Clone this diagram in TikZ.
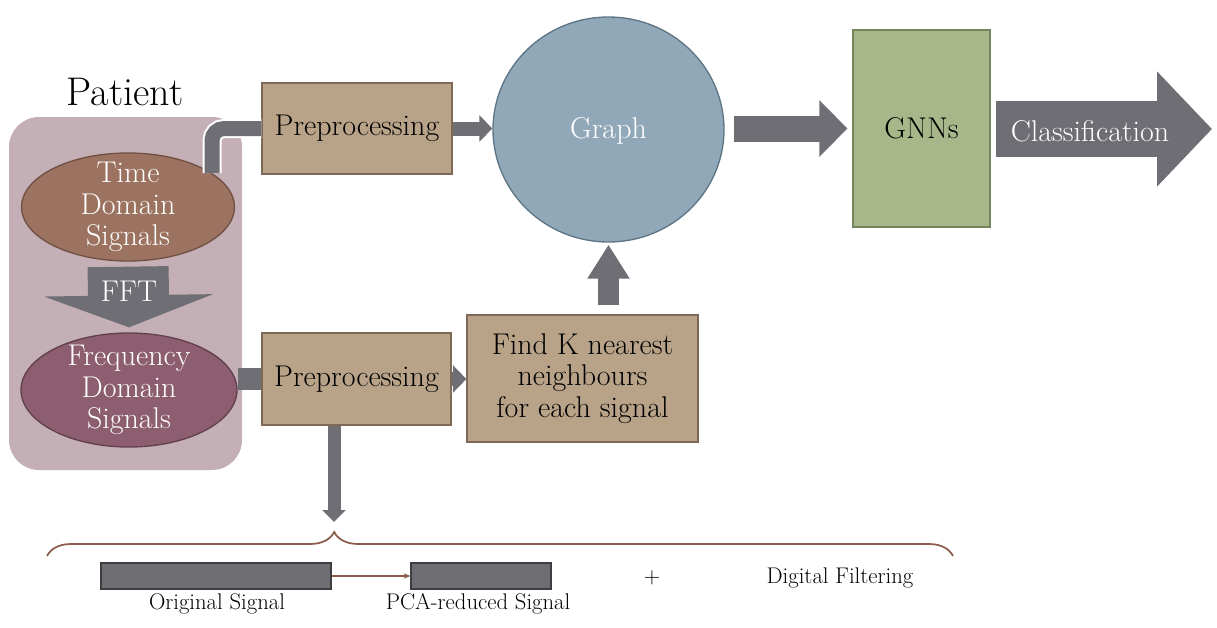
\documentclass[tikz,border=0pt]{standalone}
\usetikzlibrary{arrows.meta,shapes.geometric,decorations.pathreplacing}
\definecolor{patientbg}{RGB}{196,175,183}
\definecolor{timefill}{RGB}{156,115,96}
\definecolor{timeline}{RGB}{112,80,66}
\definecolor{freqfill}{RGB}{140,94,112}
\definecolor{freqline}{RGB}{98,64,78}
\definecolor{boxfill}{RGB}{184,162,136}
\definecolor{boxline}{RGB}{125,105,85}
\definecolor{graphfill}{RGB}{145,168,184}
\definecolor{graphline}{RGB}{94,117,133}
\definecolor{gnnfill}{RGB}{167,183,138}
\definecolor{gnnline}{RGB}{118,134,92}
\definecolor{pipegray}{RGB}{111,110,116}
\definecolor{bargray}{RGB}{110,109,114}
\definecolor{barline}{RGB}{62,62,66}
\definecolor{bracebrown}{RGB}{140,92,74}
\begin{document}
\begin{tikzpicture}[x=0.75pt,y=-0.75pt,
            every node/.style={inner sep=0pt, align=center, font=\fontsize{22.5}{23.5}\selectfont},
            box_style/.style={rectangle, draw=boxline, fill=boxfill, line width=0.9pt},
            sig_style/.style={ellipse, line width=1pt, minimum width=#1},
            white_text/.style={text=white},
            bar_style/.style={rectangle, draw=barline, fill=bargray, line width=0.9pt, minimum height=19.5pt},
            small_text/.style={font=\fontsize{17}{19}\selectfont},
            pipe/.style={draw=pipegray, line width=#1}]
            \useasboundingbox (0,0) rectangle (1217,628);
            \node[rectangle, fill=patientbg, rounded corners=22.5pt, minimum width=174.75pt, minimum height=264.75pt] (patient) at (125.5,293.5) {};
            \node[font=\fontsize{30}{32}\selectfont] (ptitle) at (125,92) {Patient};
            \node[sig_style=159.75pt, minimum height=81pt, draw=timeline, fill=timefill] (time) at (128,207) {};
            \node[white_text] (timetxt) at (time) {Time\\Domain\\Signals};
            \node[sig_style=162pt, minimum height=85.5pt, draw=freqline, fill=freqfill] (freq) at (129,390) {};
            \node[white_text] (freqtxt) at (freq) {Frequency\\Domain\\Signals};
            \node[box_style, minimum width=142.5pt, minimum height=68.25pt] (pre1) at (357,128.5) {Preprocessing};
            \node[box_style, minimum width=141.75pt, minimum height=69pt] (pre2) at (356.5,379) {Preprocessing};
            \node[box_style, minimum width=173.25pt, minimum height=95.25pt] (findk) at (582.5,378.5) {Find K nearest\\neighbours\\for each signal};
            \node[ellipse, draw=graphline, fill=graphfill, line width=1pt, minimum width=173.25pt, minimum height=168.75pt] (graph) at (608.5,129.5) {};
            \node[white_text] (graphtxt) at (608.5,131) {Graph};
            \node[rectangle, draw=gnnline, fill=gnnfill, line width=0.9pt, minimum width=102.75pt, minimum height=147.75pt] (gnn) at (921.5,128.5) {GNNs};
            \coordinate (out) at (1212,129);
            \coordinate (tip) at (334,531);
            \coordinate (bl) at (47,556);
            \coordinate (br) at (953,556);
            \draw[pipe=60.75pt, shorten <=3.75pt, shorten >=3.75pt, -{Triangle[length=24pt,width=126pt]}] (time.south) -- (freq.north);
            \node[white_text] (ffttxt) at (129,291) {FFT};
            \draw[draw=white, line width=1.5pt, double=pipegray, double distance=11.25pt, rounded corners=9pt] (time.22) |- (pre1.west);
            \draw[pipe=16.5pt] (freq.east |- pre2.west) -- (pre2.west);
            \draw[pipe=10.5pt, -{Triangle[length=9.75pt,width=19.5pt]}] (pre1.east) -- (pre1.east -| graph.west);
            \draw[pipe=10.5pt, -{Triangle[length=10pt,width=20pt]}] (pre2.east) -- (pre2.east -| findk.west);
            \draw[pipe=15.75pt, shorten <=6.75pt, shorten >=1.5pt, -{Triangle[length=25.5pt,width=30pt]}] (graph.south |- findk.north) -- (graph.south);
            \draw[pipe=19.5pt, shorten <=6.75pt, shorten >=3.75pt, -{Triangle[length=21pt,width=41.25pt]}] (gnn.west -| graph.east) -- (gnn.west);
            \draw[pipe=42pt, shorten <=3.75pt, -{Triangle[length=41.25pt,width=84pt]}] (gnn.east |- out) -- (out);
            \node[white_text] (classtxt) at (1090,131) {Classification};
            \draw[pipe=9.75pt, shorten >=6.75pt, -{Triangle[length=9pt,width=17.25pt]}] (pre2.south -| tip) -- (tip);
            \draw[bracebrown, line width=1.3pt, decorate, decoration={brace, amplitude=18pt, aspect=0.317}] (bl) -- (br);
            \node[bar_style, minimum width=172.5pt] (orig) at (216,576) {};
            \node[bar_style, minimum width=105pt] (pca) at (481,576) {};
            \draw[bracebrown, line width=1.2pt, -{Stealth[length=5pt,width=4pt]}] (orig.east) -- (pca.west);
            \node[small_text] (origtxt) at (217,604) {Original Signal};
            \node[small_text] (pcatxt) at (478,604) {PCA-reduced Signal};
            \node[small_text] (plus) at (652,578) {+};
            \node[small_text] (dfilt) at (840,578) {Digital Filtering};
        \end{tikzpicture}
\end{document}
